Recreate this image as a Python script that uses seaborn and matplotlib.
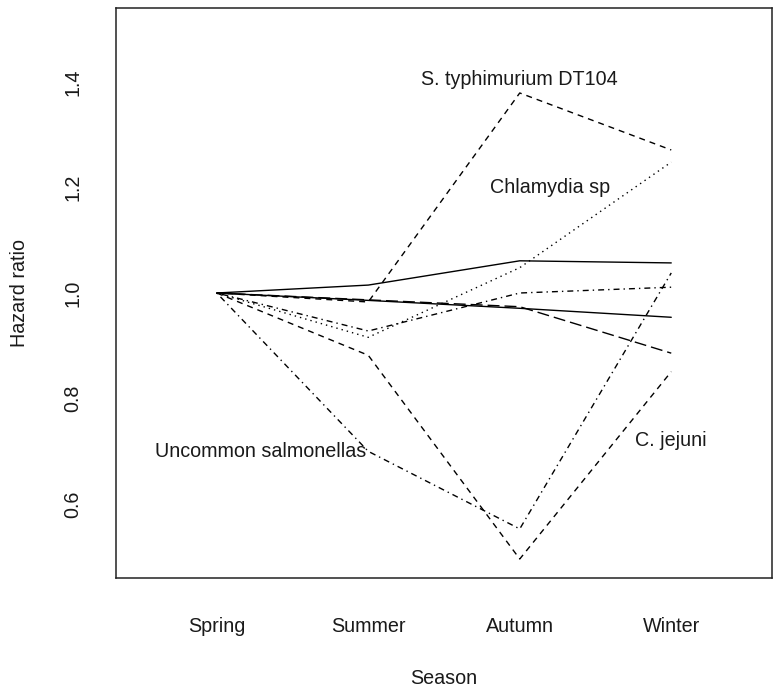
import matplotlib
matplotlib.use("Agg")
import matplotlib.pyplot as plt
import numpy as np
import pandas as pd
import seaborn as sns

# Seasonal hazard ratios (Spring is the reference season)
seasons = ["Spring", "Summer", "Autumn", "Winter"]

s_typhimurium_dt104 = [1.0, 0.983, 1.379, 1.271]
chlamydia_sp = [1.0, 0.916, 1.048, 1.248]
uncommon_salmonellas = [1.0, 0.700, 0.553, 1.038]
c_jejuni = [1.0, 0.882, 0.496, 0.851]
group_e = [1.0, 1.015, 1.061, 1.057]
group_f = [1.0, 0.986, 0.971, 0.954]
group_g = [1.0, 0.987, 0.974, 0.886]
group_h = [1.0, 0.928, 1.000, 1.011]

series = {
    "S. typhimurium DT104": s_typhimurium_dt104,
    "Chlamydia sp": chlamydia_sp,
    "Uncommon salmonellas": uncommon_salmonellas,
    "C. jejuni": c_jejuni,
    "Group E": group_e,
    "Group F": group_f,
    "Group G": group_g,
    "Group H": group_h,
}

rows = []
for name, vals in series.items():
    for i, (s, v) in enumerate(zip(seasons, vals)):
        rows.append({"organism": name, "pos": i + 1, "season": s, "hr": v})
df = pd.DataFrame(rows)

# R-like line types (on/off lengths in points)
dashed = (4.3, 3.6)
dotted = (1.0, 2.9)
dotdash = (1.0, 2.9, 4.3, 2.9)
longdash = (8.6, 3.6)
dash_map = {
    "S. typhimurium DT104": dashed,
    "Chlamydia sp": dotted,
    "Uncommon salmonellas": dotdash,
    "C. jejuni": dashed,
    "Group E": "",
    "Group F": "",
    "Group G": longdash,
    "Group H": dotdash,
}

sns.set_style("white")
plt.rcParams["font.family"] = ["Liberation Sans", "DejaVu Sans"]
plt.rcParams["lines.scale_dashes"] = False

W, H = 776, 691
fig = plt.figure(figsize=(W / 100, H / 100), dpi=100)
left, right, top, bottom = 116, 772, 8, 578
ax = fig.add_axes([left / W, (H - bottom) / H, (right - left) / W, (bottom - top) / H])

sns.lineplot(
    data=df, x="pos", y="hr", units="organism", style="organism",
    dashes=dash_map, color="black", linewidth=1.0, estimator=None,
    sort=False, legend=False, ax=ax,
)

ax.set_xlim(0.335, 4.665)
ax.set_ylim(0.46, 1.54)

text_color = "#1a1a1a"
fs = 14.2
ax.set_xticks(range(1, len(seasons) + 1))
ax.set_xticklabels(seasons)
yt = [0.6, 0.8, 1.0, 1.2, 1.4]
ax.set_yticks(yt)
ax.set_yticklabels([f"{v:.1f}" for v in yt], rotation=90, va="center")
ax.tick_params(axis="both", direction="out", length=10, width=1.0,
               color="#222222", labelsize=fs, labelcolor=text_color)
ax.tick_params(axis="x", pad=18)
ax.tick_params(axis="y", pad=14)

ax.set_xlabel("Season", fontsize=fs, color=text_color, labelpad=24)
ax.set_ylabel("Hazard ratio", fontsize=fs, color=text_color, labelpad=25)

for sp in ax.spines.values():
    sp.set_visible(True)
    sp.set_color("#222222")
    sp.set_linewidth(1.1)

# Series labels placed in data coordinates
labels = [
    ("S. typhimurium DT104", 3.0, 1.404),
    ("Chlamydia sp", 3.2, 1.20),
    ("Uncommon salmonellas", 1.29, 0.70),
    ("C. jejuni", 4.0, 0.72),
]
for txt, x, y in labels:
    ax.text(x, y, txt, ha="center", va="center", fontsize=fs, color=text_color)

fig.savefig("out.png", dpi=100)
